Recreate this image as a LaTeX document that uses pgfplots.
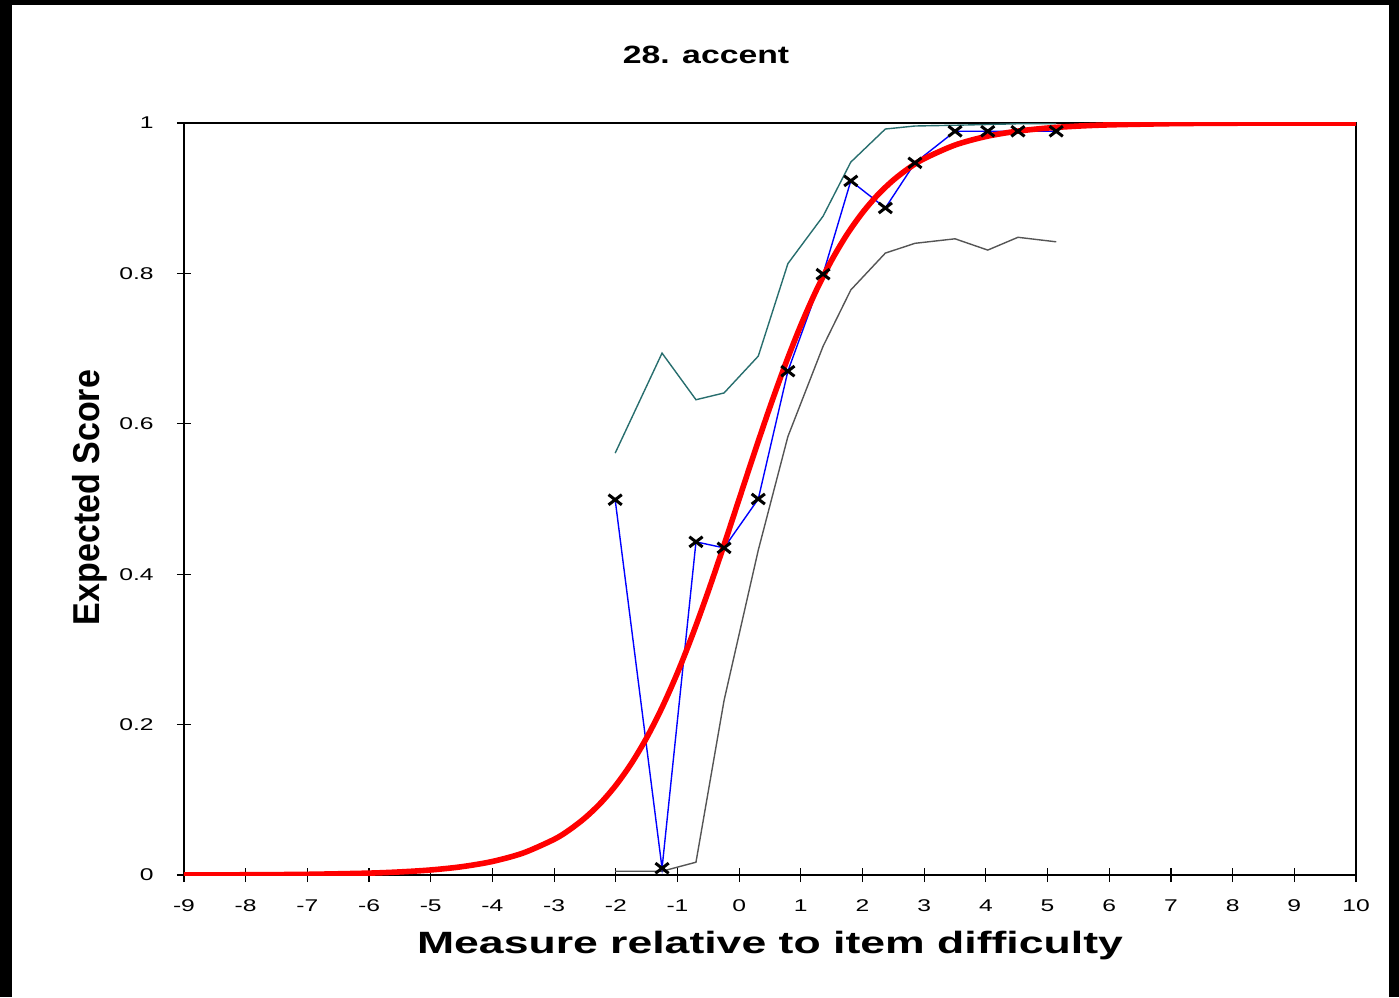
\documentclass[border=0pt]{standalone}
\usepackage{fontspec}
\setmainfont{Liberation Sans}
\usepackage{graphicx}
\usepackage{pgfplots}
\pgfplotsset{compat=1.18}
\definecolor{bandup}{RGB}{40,110,110}
\definecolor{banddn}{RGB}{85,85,85}
\begin{document}
\begin{tikzpicture}[x=1pt,y=1pt]
\path[use as bounding box] (-92,-61) rectangle (607.5,437.5);
\fill[black] (-92,-61) rectangle (-86,437.5);
\fill[black] (-92,435) rectangle (607.5,437.5);
\fill[black] (602.5,-61) rectangle (607.5,437.5);
\begin{axis}[
  at={(0,0)}, anchor=south west, scale only axis,
  width=586pt, height=376pt,
  xmin=-9, xmax=10, ymin=0, ymax=1,
  xtick={-9,-8,-7,-6,-5,-4,-3,-2,-1,0,1,2,3,4,5,6,7,8,9,10},
  ytick={0,0.2,0.4,0.6,0.8,1},
  tick pos=left, tick align=center, major tick length=7pt,
  tick style={black, line width=0.6pt},
  axis line style={black, line width=0.9pt},
  xticklabel={\scalebox{1.45}[1]{\pgfmathprintnumber[assume math mode=true]{\tick}}},
  yticklabel={\scalebox{1.45}[1]{\pgfmathprintnumber[assume math mode=true]{\tick}}},
  xticklabel style={font=\fontsize{8.5}{10}\selectfont, inner sep=0pt, anchor=north, yshift=-8.5pt},
  yticklabel style={font=\fontsize{8.5}{10}\selectfont, inner sep=0pt, anchor=east, xshift=-11.5pt},
  title={\scalebox{1.35}[1]{\fontsize{12.5}{14}\selectfont\bfseries 28. accent}},
  title style={at={(axis description cs:0.4454,1.0745)}, anchor=center, inner sep=0pt},
  xlabel={\scalebox{1.447}[1]{\fontsize{15.4}{18}\selectfont\bfseries Measure relative to item difficulty}},
  xlabel style={at={(axis description cs:0.5,-0.105)}, anchor=base, inner sep=0pt},
  ylabel={\scalebox{1}[1.1]{\fontsize{17}{20}\selectfont\bfseries Expected Score}},
  ylabel style={at={(axis description cs:-0.0717,0.502)}, anchor=base, inner sep=0pt},
]
% upper band
\addplot[bandup, line width=0.7pt] coordinates {
(-2.01,0.561) (-1.25,0.694) (-0.70,0.632) (-0.245,0.641) (0.31,0.690) (0.79,0.813)
(1.36,0.876) (1.81,0.948) (2.37,0.992) (2.85,0.996) (3.5,0.997) (4.03,0.998) (4.52,0.999) (5.14,0.999)};
% lower band
\addplot[banddn, line width=0.7pt] coordinates {
(-2.01,0.005) (-1.25,0.005) (-0.70,0.017) (-0.245,0.232) (0.31,0.432) (0.79,0.583)
(1.36,0.703) (1.81,0.778) (2.37,0.827) (2.85,0.840) (3.5,0.846) (4.03,0.831) (4.52,0.848) (5.14,0.842)};
% observed line
\addplot[blue, line width=0.7pt] coordinates {
(-2.01,0.499) (-1.25,0.009) (-0.70,0.443) (-0.245,0.435) (0.31,0.500) (0.79,0.670)
(1.36,0.799) (1.81,0.923) (2.37,0.887) (2.85,0.947) (3.5,0.989) (4.03,0.989) (4.52,0.989) (5.14,0.989)};
% model curve
\addplot[red, line width=2.8pt, smooth] coordinates {
(-9,0.0001) (-8,0.0003) (-7,0.0009) (-6,0.0025) (-5.5,0.0041) (-5,0.0067) (-4.5,0.0110)
(-4,0.0180) (-3.5,0.0293) (-3,0.0474) (-2.75,0.0601) (-2.5,0.0759) (-2.25,0.0953)
(-2,0.1192) (-1.75,0.1480) (-1.5,0.1824) (-1.25,0.2227) (-1,0.2689) (-0.75,0.3208)
(-0.5,0.3775) (-0.25,0.4378) (0,0.5) (0.25,0.5622) (0.5,0.6225) (0.75,0.6792)
(1,0.7311) (1.25,0.7773) (1.5,0.8176) (1.75,0.8520) (2,0.8808) (2.25,0.9047)
(2.5,0.9241) (2.75,0.9399) (3,0.9526) (3.5,0.9707) (4,0.9820) (4.5,0.9890)
(5,0.9933) (5.5,0.9959) (6,0.9975) (7,0.9991) (8,0.9997) (9,0.9999) (10,0.9999)};
% markers
\addplot[only marks, mark=x, mark size=3.6pt, mark options={black, line width=1.5pt, xscale=1.3}] coordinates {
(-2.01,0.499) (-1.25,0.009) (-0.70,0.443) (-0.245,0.435) (0.31,0.500) (0.79,0.670)
(1.36,0.799) (1.81,0.923) (2.37,0.887) (2.85,0.947) (3.5,0.989) (4.03,0.989) (4.52,0.989) (5.14,0.989)};
\end{axis}
\end{tikzpicture}
\end{document}
